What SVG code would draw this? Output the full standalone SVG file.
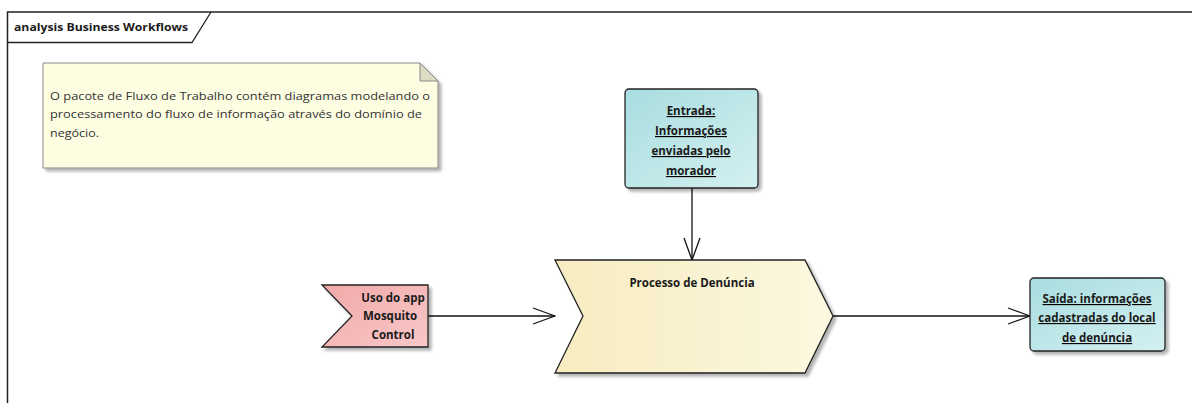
<svg xmlns="http://www.w3.org/2000/svg" width="1192" height="403" viewBox="0 0 1192 403">
  <style>
    text { font-family: "Open Sans", "Liberation Sans", sans-serif; fill: #1a1a1a; }
    .b { font-weight: bold; font-size: 11.5px; }
    .u { text-decoration: underline; }
    .note { font-size: 11.5px; fill: #333; }
    .edge { stroke: #111; stroke-width: 1.3; fill: none; }
    .box { stroke: #222; stroke-width: 1.3; }
  </style>
  <defs>
    <marker id="open" viewBox="0 0 24 18" refX="23" refY="9" markerWidth="24" markerHeight="18" markerUnits="userSpaceOnUse" orient="auto">
      <path d="M1,1 L23,9 L1,17" fill="none" stroke="#111" stroke-width="1.3"/>
    </marker>
    <linearGradient id="procFill" x1="0" y1="0" x2="1" y2="0">
      <stop offset="0" stop-color="#f7ecc0"/>
      <stop offset="1" stop-color="#fcf8e0"/>
    </linearGradient>
    <linearGradient id="objFill" x1="0" y1="0" x2="1" y2="1">
      <stop offset="0" stop-color="#a8dde0"/>
      <stop offset="1" stop-color="#d4f0f0"/>
    </linearGradient>
    <linearGradient id="evtFill" x1="0" y1="0" x2="1" y2="1">
      <stop offset="0" stop-color="#f2a9a9"/>
      <stop offset="1" stop-color="#f8c8c8"/>
    </linearGradient>
    <filter id="shadow" x="-10%" y="-10%" width="130%" height="130%">
      <feGaussianBlur in="SourceAlpha" stdDeviation="1.5"/>
      <feOffset dx="3" dy="3" result="o"/>
      <feComponentTransfer><feFuncA type="linear" slope="0.3"/></feComponentTransfer>
      <feMerge><feMergeNode/><feMergeNode in="SourceGraphic"/></feMerge>
    </filter>
  </defs>

  <rect width="1192" height="403" fill="#ffffff"/>

  <!-- diagram frame -->
  <g id="frame">
    <path d="M7.5,403 L7.5,12 L1192,12" fill="none" stroke="#222" stroke-width="1.5"/>
    <path d="M7.5,42.5 L192,42.5 L211,12" fill="none" stroke="#222" stroke-width="1.3"/>
    <text x="14" y="31" style="font-weight:bold;font-size:11px" textLength="174" lengthAdjust="spacingAndGlyphs">analysis Business Workflows</text>
  </g>

  <!-- note -->
  <g id="note">
    <path d="M43,63 L420,63 L438,81 L438,168 L43,168 Z" fill="#fdfde2" stroke="#888" stroke-width="1" filter="url(#shadow)"/>
    <path d="M420,63 L420,81 L438,81 Z" fill="#dcdcc4" stroke="#888" stroke-width="1"/>
    <text class="note" x="50" y="100" textLength="380" lengthAdjust="spacingAndGlyphs">O pacote de Fluxo de Trabalho contém diagramas modelando o</text>
    <text class="note" x="50" y="118" textLength="372" lengthAdjust="spacingAndGlyphs">processamento do fluxo de informação através do domínio de</text>
    <text class="note" x="50" y="137" textLength="49" lengthAdjust="spacingAndGlyphs">negócio.</text>
  </g>

  <!-- connectors -->
  <g id="connectors">
    <line class="edge" x1="692" y1="188" x2="692" y2="260" marker-end="url(#open)"/>
    <line class="edge" x1="428" y1="316" x2="555" y2="316" marker-end="url(#open)"/>
    <line class="edge" x1="833" y1="316" x2="1030" y2="316" marker-end="url(#open)"/>
  </g>

  <!-- input object -->
  <g id="entrada">
    <rect class="box" x="625" y="89" width="133" height="99" rx="4" fill="url(#objFill)" filter="url(#shadow)"/>
    <g class="b u" text-anchor="middle">
      <text x="691" y="115">Entrada:</text>
      <text x="691" y="135">Informações</text>
      <text x="691" y="155">enviadas pelo</text>
      <text x="691" y="175">morador</text>
    </g>
  </g>

  <!-- process -->
  <g id="processo">
    <path class="box" d="M555,260 L805,260 L833,316 L805,373 L555,373 L583,316 Z" fill="url(#procFill)" filter="url(#shadow)"/>
    <text class="b" x="692" y="287" text-anchor="middle">Processo de Denúncia</text>
  </g>

  <!-- triggering event -->
  <g id="uso-app">
    <path class="box" d="M322,285 L428,285 L428,347 L322,347 L352,316 Z" fill="url(#evtFill)" filter="url(#shadow)"/>
    <g class="b" text-anchor="middle">
      <text x="393" y="302">Uso do app</text>
      <text x="390" y="320">Mosquito</text>
      <text x="393" y="339">Control</text>
    </g>
  </g>

  <!-- output object -->
  <g id="saida">
    <rect class="box" x="1030" y="278" width="135" height="73" rx="4" fill="url(#objFill)" filter="url(#shadow)"/>
    <g class="b u" text-anchor="middle">
      <text x="1097" y="303">Saída: informações</text>
      <text x="1097" y="322">cadastradas do local</text>
      <text x="1097" y="342">de denúncia</text>
    </g>
  </g>
</svg>
